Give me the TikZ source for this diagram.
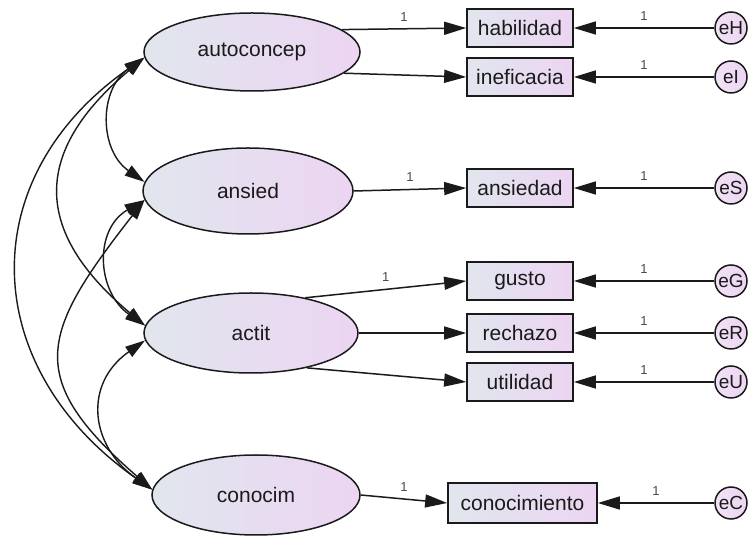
\documentclass[tikz,border=0pt]{standalone}
\usepackage{fontspec}
\setmainfont{Liberation Sans}
\usetikzlibrary{arrows.meta,shapes.geometric}
\definecolor{fillL}{HTML}{E1E6EE}
\definecolor{fillR}{HTML}{ECD5F2}
\definecolor{ink}{HTML}{1A1A1A}

\begin{document}
\begin{tikzpicture}[x=1pt,y=1pt,
  latent/.style={ellipse, draw=ink, line width=1.5pt, left color=fillL, right color=fillR,
    inner sep=0pt, text=ink, font=\fontsize{21}{21}\selectfont},
  observed/.style={rectangle, draw=ink, line width=1.7pt, left color=fillL, right color=fillR,
    minimum width=106pt, minimum height=38pt, inner sep=0pt, text=ink,
    font=\fontsize{21}{21}\selectfont},
  errterm/.style={circle, draw=ink, line width=1.5pt, left color=fillR!70!white, right color=fillR,
    minimum size=32pt, inner sep=0pt, text=ink, font=\fontsize{19}{19}\selectfont},
  regr/.style={draw=ink, line width=1.5pt, -{Triangle[length=22pt,width=13pt]}},
  covar/.style={draw=ink, line width=1.4pt,
    {Triangle[length=20pt,width=12pt]}-{Triangle[length=20pt,width=12pt]}},
  wt/.style={inner sep=0pt, above=7pt, text=ink!80, font=\fontsize{13}{13}\selectfont}]

\useasboundingbox (0,0) rectangle (749,537);

% latent factors
\node[latent, minimum width=216pt, minimum height=78pt] (autoconcep) at (252,485) {autoconcep};
\node[latent, minimum width=210pt, minimum height=86pt] (ansied) at (248,346) {ansied};
\node[latent, minimum width=214pt, minimum height=80pt] (actit) at (251,204) {actit};
\node[latent, minimum width=208pt, minimum height=80pt] (conocim) at (256,42) {conocim};

% observed indicators
\node[observed] (habilidad) at (520,509) {habilidad};
\node[observed] (ineficacia) at (520,460) {ineficacia};
\node[observed] (ansiedad) at (520,349) {ansiedad};
\node[observed] (gusto) at (520,256) {gusto};
\node[observed] (rechazo) at (520,204) {rechazo};
\node[observed] (utilidad) at (520,155) {utilidad};
\node[observed, minimum width=149pt, minimum height=40pt] (conocimiento) at (522.5,34) {conocimiento};

% error terms
\node[errterm] (eH) at (731,509) {eH};
\node[errterm] (eI) at (731,460) {eI};
\node[errterm] (eS) at (731,349) {eS};
\node[errterm] (eG) at (731,256) {eG};
\node[errterm] (eR) at (731,204) {eR};
\node[errterm] (eU) at (731,155) {eU};
\node[errterm] (eC) at (731,34) {eC};

% loadings
\draw[regr] (autoconcep.14) -- node[wt] {1} (habilidad.west);
\draw[regr] (autoconcep.-13) -- (ineficacia.west);
\draw[regr] (ansied.east) -- node[wt] {1} (ansiedad.west);
\draw[regr] (actit.33) -- node[wt] {1} (gusto.west);
\draw[regr] (actit.east) -- (rechazo.west);
\draw[regr] (actit.-32) -- (utilidad.west);
\draw[regr] (conocim.east) -- node[wt] {1} (conocimiento.west);

% error paths
\draw[regr] (eH) -- node[wt] {1} (habilidad);
\draw[regr] (eI) -- node[wt] {1} (ineficacia);
\draw[regr] (eS) -- node[wt] {1} (ansiedad);
\draw[regr] (eG) -- node[wt] {1} (gusto);
\draw[regr] (eR) -- node[wt] {1} (rechazo);
\draw[regr] (eU) -- node[wt] {1} (utilidad);
\draw[regr] (eC) -- node[wt] {1} (conocimiento);

% factor covariances
\draw[covar] (autoconcep.183) to[out=215,in=145,looseness=1.15] (ansied.175);
\draw[covar] (ansied.185) to[out=210,in=145,looseness=1.2] (actit.176);
\draw[covar] (autoconcep.183) to[out=220,in=140,looseness=1.4] (actit.176);
\draw[covar] (autoconcep.183) to[out=215,in=145,looseness=1.25] (conocim.177);
\draw[covar] (ansied.185) to[out=232,in=139,looseness=1.5] (conocim.177);
\draw[covar] (actit.184) to[out=215,in=145,looseness=1.3] (conocim.177);
\end{tikzpicture}
\end{document}
